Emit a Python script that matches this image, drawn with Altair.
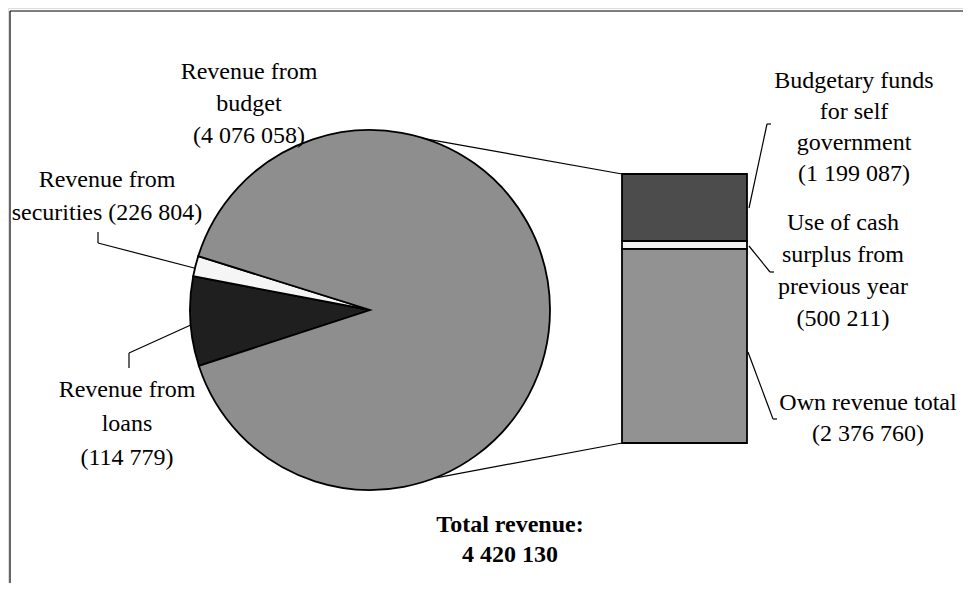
import math
import altair as alt
import pandas as pd

# ---- data (slice / segment sizes as drawn in the picture) ----
pie_names = ["Revenue from loans", "Revenue from securities", "Revenue from budget"]
pie_values = [355000, 81000, 3984130]
pie_fill = ["#1f1f1f", "#f5f5f5", "#8e8e8e"]

bar_names = ["Own revenue total", "Use of cash surplus from previous year",
             "Budgetary funds for self government"]
bar_values = [2940000, 121000, 1015058]
bar_fill = ["#929292", "#f2f2f2", "#4c4c4c"]

# label texts (as printed)
label_budget = ["Revenue from", "budget", "(4 076 058)"]
label_securities = ["Revenue from", "securities (226 804)"]
label_loans = ["Revenue from", "loans", "(114 779)"]
label_funds = ["Budgetary funds", "for self", "government", "(1 199 087)"]
label_cash = ["Use of cash", "surplus from", "previous year", "(500 211)"]
label_own = ["Own revenue total", "(2 376 760)"]
label_total = ["Total revenue:", "4 420 130"]

# ---- layout (plot coordinates, page minus 8px margin) ----
W, H = 955, 575
CX, CY, R = 362, 302, 180
START = math.radians(251.9)
BAR_X0, BAR_X1, BAR_TOP, BAR_BOT = 614, 739, 166, 435
LH = 32
FONT = "Liberation Serif"
FS = 24

def lines(texts, cx, y0, step=LH):
    return [{"t": t, "px": cx, "py": y0 + i * step} for i, t in enumerate(texts)]

text_rows = (lines(label_budget, 241, 64) + lines(label_securities, 99, 172, 33)
             + lines(label_loans, 119, 382, 34) + lines(label_funds, 846, 73, 31)
             + lines(label_cash, 835, 215, 32) + lines(label_own, 860, 395, 31))
bold_rows = lines(label_total, 502, 517, 30)

def pie_pt(deg):
    a = math.radians(deg)
    return CX + R * math.sin(a), CY - R * math.cos(a)

tx, ty = pie_pt(18)
bx, by = pie_pt(159)
segs = [
    (tx, ty, BAR_X0, BAR_TOP), (bx, by, BAR_X0, BAR_BOT),
    (90, 224, 90, 235), (90, 235, 190, 261),            # securities leader
    (185, 316, 121, 345), (121, 345, 121, 360),          # loans leader
    (741, 200, 759, 116), (759, 116, 763, 116),          # funds leader
    (741, 238, 762, 264), (762, 264, 766, 264),          # cash leader
    (740, 344, 765, 411), (765, 411, 769, 411),          # own leader
    (2, 3, W, 3), (2, 3, 2, H),                          # frame
]
seg_df = pd.DataFrame(segs, columns=["x1", "y1", "x2", "y2"])

pie_df = pd.DataFrame({"name": pie_names, "v": pie_values, "fill": pie_fill,
                       "o": list(range(len(pie_names)))})
bar_df = pd.DataFrame({"name": bar_names, "v": bar_values, "fill": bar_fill,
                       "o": list(range(len(bar_names)))})

pie = alt.Chart(pie_df).mark_arc(radius=R, stroke="black", strokeWidth=1.8).encode(
    x=alt.value(CX), y=alt.value(CY),
    theta=alt.Theta("v:Q", stack=True,
                    scale=alt.Scale(range=[START, START + 2 * math.pi])),
    order=alt.Order("o:Q"),
    fill=alt.Fill("fill:N", scale=None),
)

bar = alt.Chart(bar_df).transform_stack(
    stack="v", groupby=[], as_=["y0", "y1"], sort=[alt.SortField("o", order="ascending")]
).mark_rect(stroke="black", strokeWidth=1.8).encode(
    x=alt.value(BAR_X0), x2=alt.value(BAR_X1),
    y=alt.Y("y0:Q", scale=alt.Scale(domain=[0, sum(bar_values)],
                                    range=[BAR_BOT, BAR_TOP]), axis=None),
    y2="y1:Q",
    fill=alt.Fill("fill:N", scale=None),
)

rules = alt.Chart(seg_df).mark_rule(color="black", strokeWidth=1.2).encode(
    x=alt.X("x1:Q", scale=None), y=alt.Y("y1:Q", scale=None),
    x2="x2:Q", y2="y2:Q",
)

texts = alt.Chart(pd.DataFrame(text_rows)).mark_text(
    font=FONT, fontSize=FS, color="black", align="center", baseline="middle"
).encode(x=alt.X("px:Q", scale=None), y=alt.Y("py:Q", scale=None), text="t:N")

bold = alt.Chart(pd.DataFrame(bold_rows)).mark_text(
    font=FONT, fontSize=FS, fontWeight="bold", color="black", align="center",
    baseline="middle"
).encode(x=alt.X("px:Q", scale=None), y=alt.Y("py:Q", scale=None), text="t:N")

chart = alt.layer(rules, pie, bar, texts, bold).resolve_scale(
    x="independent", y="independent"
).properties(
    width=W, height=H, padding=0, autosize=alt.AutoSizeParams(type="none")
).configure_view(stroke=None).configure(background="white")

chart.save("out.html", embed_options={"renderer": "svg", "actions": False})
